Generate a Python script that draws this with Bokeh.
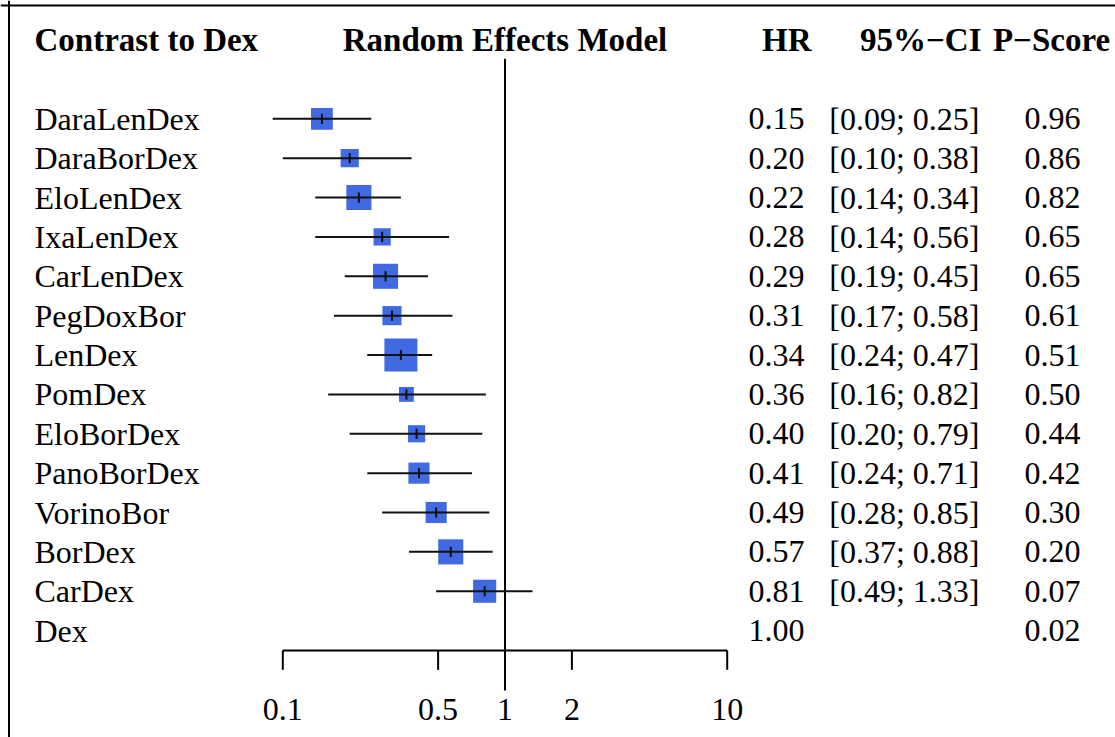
from bokeh.plotting import figure
from bokeh.models import Range1d, LogScale, ColumnDataSource, Span
from bokeh.core.properties import value
from bokeh.embed import file_html
from bokeh.resources import INLINE

# ---------------- data ----------------
treatments = ["DaraLenDex", "DaraBorDex", "EloLenDex", "IxaLenDex", "CarLenDex",
              "PegDoxBor", "LenDex", "PomDex", "EloBorDex", "PanoBorDex",
              "VorinoBor", "BorDex", "CarDex", "Dex"]
hr = [0.15, 0.20, 0.22, 0.28, 0.29, 0.31, 0.34, 0.36, 0.40, 0.41, 0.49, 0.57, 0.81, 1.00]
ci_lower = [0.09, 0.10, 0.14, 0.14, 0.19, 0.17, 0.24, 0.16, 0.20, 0.24, 0.28, 0.37, 0.49, None]
ci_upper = [0.25, 0.38, 0.34, 0.56, 0.45, 0.58, 0.47, 0.82, 0.79, 0.71, 0.85, 0.88, 1.33, None]
p_score = [0.96, 0.86, 0.82, 0.65, 0.65, 0.61, 0.51, 0.50, 0.44, 0.42, 0.30, 0.20, 0.07, 0.02]
box_weight = [0.66, 0.55, 0.76, 0.52, 0.76, 0.58, 1.00, 0.45, 0.52, 0.64, 0.64, 0.76, 0.70, None]

x_ticks = [0.1, 0.5, 1, 2, 10]
x_tick_labels = ["0.1", "0.5", "1", "2", "10"]

header_left = "Contrast to Dex"
header_mid = "Random Effects Model"
header_hr = "HR"
header_ci = "95%\u2212CI"
header_p = "P\u2212Score"

# ---------------- layout constants ----------------
W, H = 1115, 737
FONT = value("Liberation Serif")
FS = "32px"
FS_HEAD = "33px"
BOX_MAX = 33

# row units: row 0 at page y 118.3, spacing 39.37 px
Y_TOP = (0 - 118.3) / 39.37
Y_BOT = (H - 118.3) / 39.37

X_LABEL = 34
X_HR_R = 804
X_HR_HEAD_R = 811
X_CI_R = 979
X_CI_HEAD_R = 981
X_P_C = 1052
X_P_HEAD_C = 1051

p = figure(width=W, height=H, output_backend="svg", toolbar_location=None,
           x_axis_location=None, y_axis_location=None,
           x_range=Range1d(0, W), y_range=Range1d(Y_BOT, Y_TOP),
           min_border=0, outline_line_color=None,
           background_fill_color="white", border_fill_color="white")
p.grid.visible = False

# log scale for the forest: 0.1 at page x 282.3, 10 at 726.7
p.extra_x_ranges = {"hr": Range1d(10 ** -2.2705, 10 ** 2.7475)}
p.extra_x_scales = {"hr": LogScale()}

n = len(treatments)
rows = list(range(n))

# frame border (left + top)
p.add_layout(Span(location=8.5, dimension="height", line_color="black", line_width=2))
p.add_layout(Span(location=(5 - 118.3) / 39.37, dimension="width", line_color="black", line_width=2))

# reference line at HR = 1
p.segment(x0=[1], x1=[1], y0=[-1.524], y1=[14.52], x_range_name="hr",
          line_color="black", line_width=2)

# confidence intervals and boxes
idx = [i for i in rows if ci_lower[i] is not None]
ci_src = ColumnDataSource(dict(
    lo=[ci_lower[i] for i in idx], hi=[ci_upper[i] for i in idx],
    y=[float(i) for i in idx], hr=[hr[i] for i in idx],
    size=[box_weight[i] * BOX_MAX for i in idx],
    yt0=[i - 0.13 for i in idx], yt1=[i + 0.13 for i in idx]))

p.scatter(x="hr", y="y", size="size", marker="square", source=ci_src,
          x_range_name="hr", fill_color="#4169E1", line_color=None)
p.segment(x0="lo", x1="hi", y0="y", y1="y", source=ci_src, x_range_name="hr",
          line_color="#111111", line_width=2)
p.segment(x0="hr", x1="hr", y0="yt0", y1="yt1", source=ci_src, x_range_name="hr",
          line_color="#111111", line_width=2)

# x axis (drawn on the log scale)
AX_Y = 13.505
p.segment(x0=[x_ticks[0]], x1=[x_ticks[-1]], y0=[AX_Y], y1=[AX_Y], x_range_name="hr",
          line_color="black", line_width=2)
p.segment(x0=x_ticks, x1=x_ticks, y0=[AX_Y] * len(x_ticks), y1=[13.996] * len(x_ticks),
          x_range_name="hr", line_color="black", line_width=2)
p.text(x=x_ticks, y=[15.006] * len(x_ticks), text=x_tick_labels, x_range_name="hr",
       text_font=FONT, text_font_size=FS, text_align="center", text_baseline="middle",
       text_color="black")

# row labels and columns
txt_src = ColumnDataSource(dict(
    y=[float(i) for i in rows],
    name=treatments,
    hr=[f"{v:.2f}" for v in hr],
    ci=[f"[{ci_lower[i]:.2f}; {ci_upper[i]:.2f}]" if ci_lower[i] is not None else "" for i in rows],
    ps=[f"{v:.2f}" for v in p_score],
    xl=[X_LABEL] * n, xh=[X_HR_R] * n, xc=[X_CI_R] * n, xp=[X_P_C] * n))

common = dict(text_font=FONT, text_font_size=FS, text_baseline="middle", text_color="black")
p.text(x="xl", y="y", text="name", source=txt_src, text_align="left", **common)
p.text(x="xh", y="y", text="hr", source=txt_src, text_align="right", **common)
p.text(x="xc", y="y", text="ci", source=txt_src, text_align="right", **common)
p.text(x="xp", y="y", text="ps", source=txt_src, text_align="center", **common)

# headers
HY = -2.014
hb = dict(text_font=FONT, text_font_size=FS_HEAD, text_font_style="bold",
          text_baseline="middle", text_color="black")
p.text(x=[X_LABEL], y=[HY], text=[header_left], text_align="left", **hb)
p.text(x=[1], y=[HY], text=[header_mid], x_range_name="hr", text_align="center", **hb)
p.text(x=[X_HR_HEAD_R], y=[HY], text=[header_hr], text_align="right", **hb)
p.text(x=[X_CI_HEAD_R], y=[HY], text=[header_ci], text_align="right", **hb)
p.text(x=[X_P_HEAD_C], y=[HY], text=[header_p], text_align="center", **hb)

open("out.html", "w").write(file_html(p, INLINE))
